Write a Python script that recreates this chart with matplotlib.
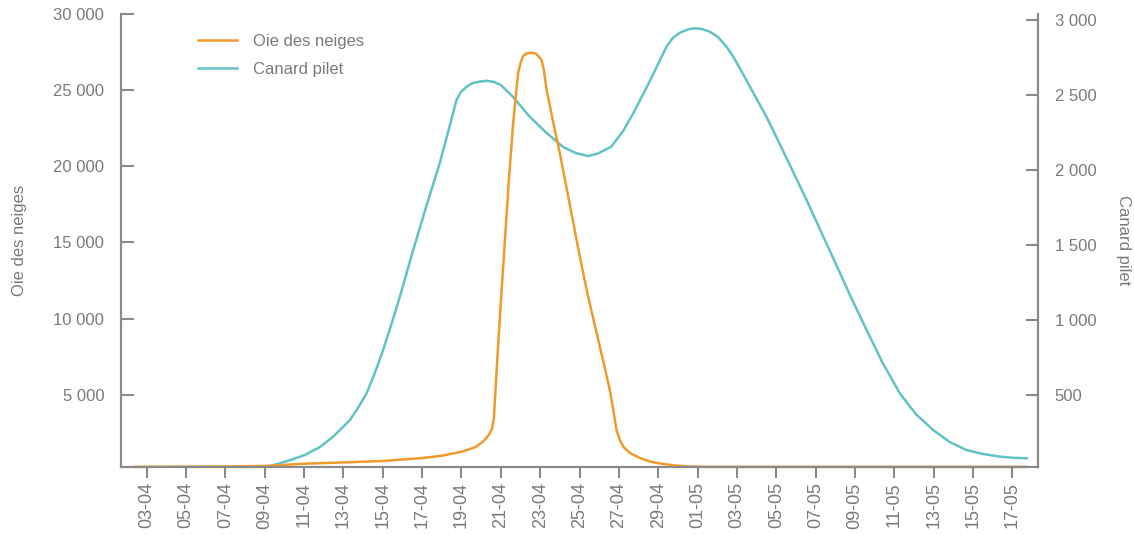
import matplotlib
matplotlib.use('Agg')
import matplotlib.pyplot as plt

# day numbers counted from 1 April (1 May = 31)
tick_labels = ['03-04', '05-04', '07-04', '09-04', '11-04', '13-04', '15-04',
               '17-04', '19-04', '21-04', '23-04', '25-04', '27-04', '29-04',
               '01-05', '03-05', '05-05', '07-05', '09-05', '11-05', '13-05',
               '15-05', '17-05']

oie_days = [2.41, 5, 7, 9.01, 11.04, 13, 15, 17.04, 18, 19.02, 19.73, 20.13,
            20.39, 20.55, 20.65, 20.78, 20.95, 21.21, 21.41, 21.63, 21.77,
            21.88, 22.02, 22.14, 22.32, 22.56, 22.78, 22.93, 23.07, 23.19,
            23.33, 23.65, 24.0, 24.51, 25.02, 25.42, 25.87, 26.24, 26.54, 26.7,
            26.88, 27.05, 27.22, 27.56, 28.07, 28.57, 29.08, 29.84, 30.61,
            31.63, 35, 40, 47.73]
oie_vals = [270, 285, 300, 325, 477, 560, 654, 851, 1000, 1264, 1573, 1967,
            2361, 2755, 3477, 6431, 10042, 15163, 19100, 22844, 24680, 26127,
            26850, 27250, 27420, 27450, 27400, 27200, 26980, 26320, 25010,
            22975, 20874, 17460, 14046, 11550, 9057, 7022, 5315, 4133, 2689,
            2032, 1593, 1179, 851, 621, 490, 360, 293, 270, 270, 270, 270]

pilet_days = [9.11, 9.77, 10.38, 11.04, 11.81, 12.48, 13.33, 13.74, 14.18,
              14.6, 15.02, 15.46, 15.87, 16.55, 17.19, 17.9, 18.31, 18.51,
              18.75, 18.97, 19.26, 19.58, 19.94, 20.28, 20.65, 21.0, 21.61,
              22.47, 23.33, 24.15, 24.81, 25.44, 25.95, 26.61, 27.22, 27.73,
              28.56, 29.42, 29.74, 30.1, 30.5, 30.86, 31.21, 31.62, 32.03,
              32.47, 32.79, 33.15, 33.81, 34.5, 35.52, 36.54, 37.21, 37.89,
              38.74, 39.59, 40.41, 41.28, 42.09, 42.97, 43.81, 44.66, 45.5,
              46.36, 47.02, 47.72]
pilet_vals = [20, 45, 70, 100, 153, 222, 333, 413, 511, 647, 800, 980, 1155,
              1467, 1747, 2047, 2247, 2347, 2467, 2520, 2555, 2580, 2589, 2595,
              2587, 2567, 2489, 2355, 2247, 2155, 2113, 2093, 2111, 2155, 2260,
              2378, 2589, 2822, 2880, 2915, 2937, 2945, 2940, 2922, 2887, 2822,
              2760, 2678, 2520, 2355, 2080, 1800, 1607, 1413, 1167, 933, 713,
              511, 373, 267, 187, 133, 107, 89, 82, 78]


def day_of(label):
    d, m = label.split('-')
    return (int(m) - 4) * 30 + int(d)


ORANGE = '#F09A2C'
TEAL = '#62C3C6'
GREY = '#8A8A8A'
TXT = '#7A7A7A'

plt.rcParams['font.family'] = ['Liberation Sans', 'DejaVu Sans']

fig = plt.figure(figsize=(11.34, 5.35), dpi=100)
ax = fig.add_axes([121 / 1134, 68 / 535, 917 / 1134, 453 / 535])
ax2 = ax.twinx()
# orange goose line drawn over the teal one
ax.set_zorder(ax2.get_zorder() + 1)
ax.patch.set_visible(False)

l1, = ax.plot(oie_days, oie_vals, color=ORANGE, lw=1.8, label='Oie des neiges',
              clip_on=False, solid_joinstyle='round')
l2, = ax2.plot(pilet_days, pilet_vals, color=TEAL, lw=1.8, label='Canard pilet',
               solid_joinstyle='round')

ax.set_xlim(1.7, 48.3)
ax.set_ylim(260, 30000)
ax2.set_ylim(20, 3040)

ax.set_xticks([day_of(t) for t in tick_labels])
ax.set_xticklabels(tick_labels, rotation=90)
ax.set_yticks([5000, 10000, 15000, 20000, 25000, 30000])
ax.set_yticklabels(['5 000', '10 000', '15 000', '20 000', '25 000', '30 000'])
ax2.set_yticks([500, 1000, 1500, 2000, 2500, 3000])
ax2.set_yticklabels(['500', '1 000', '1 500', '2 000', '2 500', '3 000'])

for a in (ax, ax2):
    for s in a.spines.values():
        s.set_color(GREY)
        s.set_linewidth(1.5)
    a.spines['top'].set_visible(False)

ax.tick_params(axis='x', direction='out', length=8, width=1.5, color=GREY,
               labelcolor=TXT, labelsize=13, pad=3)
ax.tick_params(axis='y', direction='in', length=9, width=1.5, color=GREY,
               labelcolor=TXT, labelsize=12, pad=12)
ax2.tick_params(axis='y', direction='in', length=9, width=1.5, color=GREY,
                labelcolor=TXT, labelsize=12, pad=12)

ax.set_ylabel('Oie des neiges', color=TXT, fontsize=12, labelpad=19)
ax2.set_ylabel('Canard pilet', color=TXT, fontsize=12, rotation=270, labelpad=25)

ax.legend(handles=[l1, l2], loc='upper left', bbox_to_anchor=(0.068, 0.989),
          frameon=False, fontsize=12, labelcolor=TXT, handlelength=2.3,
          handletextpad=0.95, labelspacing=0.78)

fig.savefig('out.png', dpi=100)
